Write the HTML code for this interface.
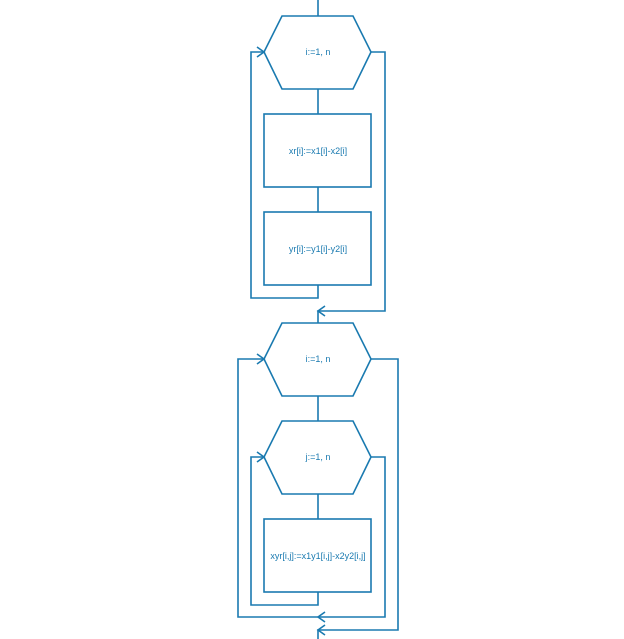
<!DOCTYPE html>
<html><head><style>body{margin:0;background:#fff}svg{display:block}text{font-family:"Liberation Sans",sans-serif;font-size:9px;fill:#1a7ab0}</style></head><body>
<svg width="624" height="639" viewBox="0 0 624 639" fill="none" stroke="#1a7ab0" stroke-width="1.6">
<line x1="318" y1="0" x2="318" y2="16"/>
<polygon points="282,16 353,16 371,52 353,89 282,89 264,52"/>
<line x1="318" y1="89" x2="318" y2="114"/>
<rect x="264" y="114" width="107" height="73"/>
<line x1="318" y1="187" x2="318" y2="212"/>
<rect x="264" y="212" width="107" height="73"/>
<polyline points="318,285 318,298 251,298 251,52 264,52"/>
<polyline points="257,47 264,52 257,57"/>
<polyline points="371,52 385,52 385,311 318,311 318,323"/>
<polyline points="325,306 318,311 325,316"/>
<polygon points="282,323 353,323 371,359 353,396 282,396 264,359"/>
<line x1="318" y1="396" x2="318" y2="421"/>
<polygon points="282,421 353,421 371,457 353,494 282,494 264,457"/>
<line x1="318" y1="494" x2="318" y2="519"/>
<rect x="264" y="519" width="107" height="73"/>
<polyline points="318,592 318,605 251,605 251,457 264,457"/>
<polyline points="257,452 264,457 257,462"/>
<polyline points="371,457 385,457 385,617 238,617 238,359 264,359"/>
<polyline points="257,354 264,359 257,364"/>
<polyline points="325,612 318,617 325,622"/>
<polyline points="371,359 398,359 398,630 318,630 318,639"/>
<polyline points="325,625 318,630 325,635"/>
<g stroke="none">
<text x="318" y="55" text-anchor="middle">i:=1, n</text>
<text x="318" y="154" text-anchor="middle">xr[i]:=x1[i]-x2[i]</text>
<text x="318" y="252" text-anchor="middle">yr[i]:=y1[i]-y2[i]</text>
<text x="318" y="362" text-anchor="middle">i:=1, n</text>
<text x="318" y="460" text-anchor="middle">j:=1, n</text>
<text x="318" y="559" text-anchor="middle">xyr[i,j]:=x1y1[i,j]-x2y2[i,j]</text>
</g>
</svg>
</body></html>
